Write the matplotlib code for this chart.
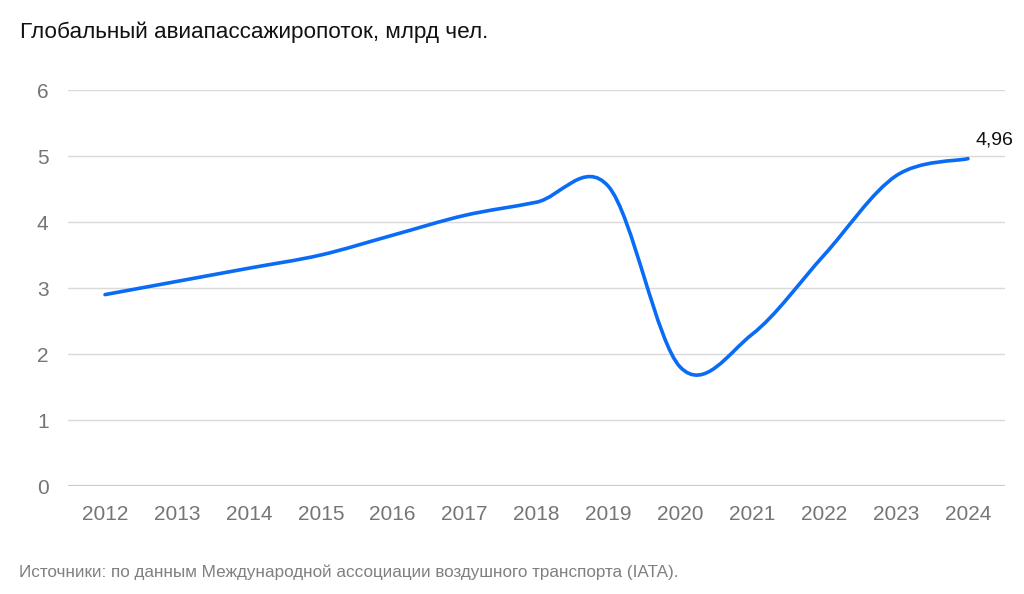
import numpy as np
import matplotlib
matplotlib.use('Agg')
import matplotlib.pyplot as plt
from matplotlib.path import Path
from matplotlib.patches import PathPatch

# Data
years = ['2012', '2013', '2014', '2015', '2016', '2017', '2018',
         '2019', '2020', '2021', '2022', '2023', '2024']
passengers = [2.9, 3.1, 3.3, 3.5, 3.8, 4.1, 4.3, 4.54, 1.8, 2.3, 3.5, 4.7, 4.96]
y_ticks = [0, 1, 2, 3, 4, 5, 6]
last_label = '4,96'

title = 'Глобальный авиапассажиропоток, млрд чел.'
source = 'Источники: по данным Международной ассоциации воздушного транспорта (IATA).'

plt.rcParams['font.family'] = ['Liberation Sans', 'DejaVu Sans']

fig = plt.figure(figsize=(10.24, 5.94), dpi=100)
ax = fig.add_axes([68 / 1024, 108 / 594, 937 / 1024, 396 / 594])

x = np.arange(len(years))
y = np.array(passengers)


def smooth_path(xs, ys):
    # cubic bezier through the points (catmull-rom style tangents)
    pts = np.column_stack([xs, ys])
    verts = [pts[0]]
    codes = [Path.MOVETO]
    n = len(pts)
    for i in range(n - 1):
        p_prev = pts[i - 1] if i > 0 else pts[i]
        p_next2 = pts[i + 2] if i + 2 < n else pts[i + 1]
        c1 = pts[i] + (pts[i + 1] - p_prev) / 6
        c2 = pts[i + 1] - (p_next2 - pts[i]) / 6
        verts += [c1, c2, pts[i + 1]]
        codes += [Path.CURVE4] * 3
    return Path(verts, codes)


ax.add_patch(PathPatch(smooth_path(x, y), facecolor='none', edgecolor='#0a6cf5',
                       lw=2.6, capstyle='round', joinstyle='round', zorder=3))

ax.annotate(last_label, (x[-1], y[-1]), xytext=(8, 10), textcoords='offset pixels',
            ha='left', va='bottom', fontsize=14, color='#111111')

ax.set_xlim(-0.515, len(years) - 1 + 0.515)
ax.set_ylim(0, 6)
ax.set_xticks(x)
ax.set_xticklabels(years)
ax.set_yticks(y_ticks)

for t in y_ticks:
    ax.axhline(t, color='#cccccc' if t == 0 else '#dadada', lw=1.6 if t == 0 else 1.0, zorder=1)

for s in ax.spines.values():
    s.set_visible(False)
ax.tick_params(axis='both', length=0, labelsize=15, labelcolor='#757575')
ax.tick_params(axis='x', pad=14)
ax.tick_params(axis='y', pad=14)

fig.text(20 / 1024, 1 - 38 / 594, title, fontsize=16.2, color='#111111', va='baseline')
fig.text(19 / 1024, 1 - 577 / 594, source, fontsize=12.3, color='#808080', va='baseline')

fig.savefig('out.png', dpi=100, facecolor='white')
